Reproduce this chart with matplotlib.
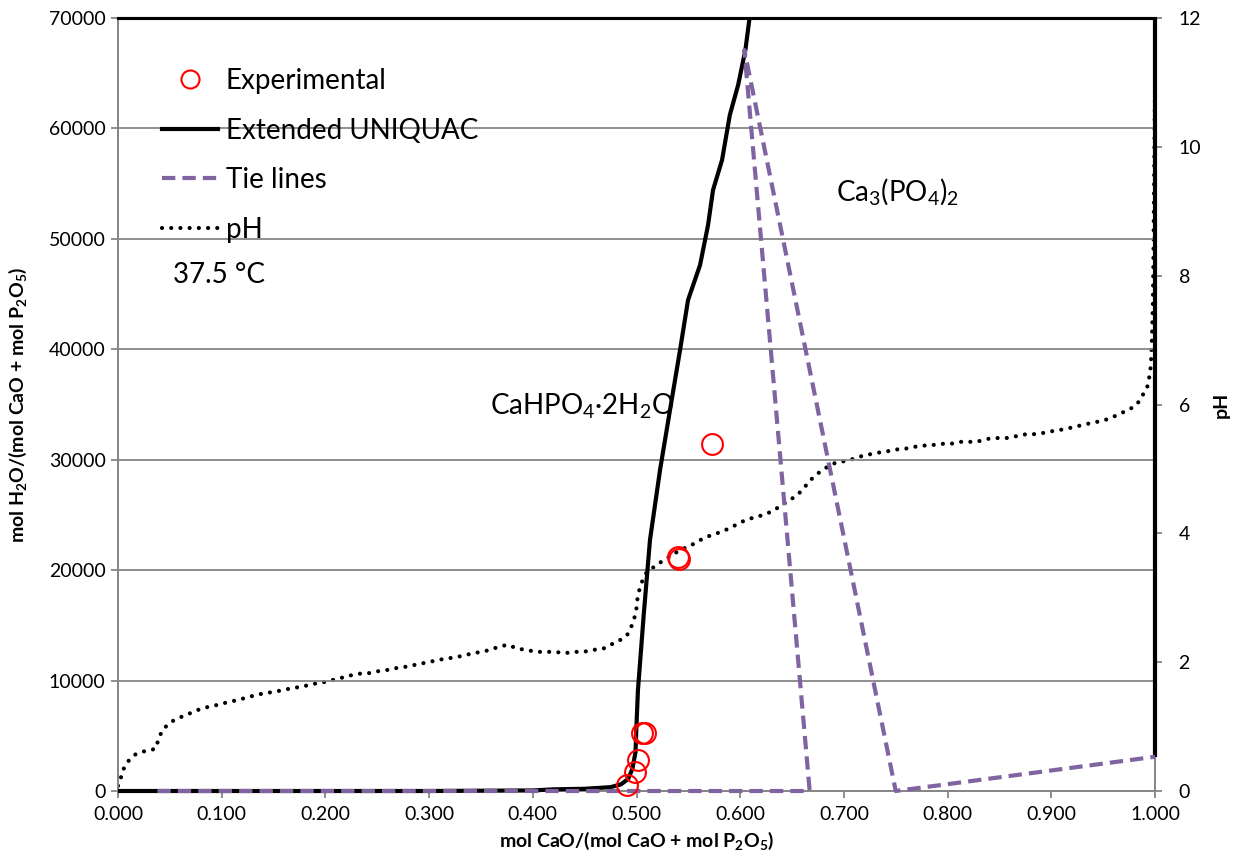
import matplotlib
matplotlib.use("Agg")
import matplotlib.pyplot as plt
from matplotlib.lines import Line2D
from matplotlib.ticker import FormatStrFormatter, MultipleLocator

plt.rcParams["font.family"] = ["Lato", "DejaVu Sans"]
plt.rcParams["mathtext.fontset"] = "custom"
plt.rcParams["mathtext.rm"] = "Lato"
plt.rcParams["mathtext.it"] = "Lato:italic"
plt.rcParams["mathtext.bf"] = "Lato:bold"

# Extended UNIQUAC solubility curve (CaHPO4.2H2O branch)
uniquac_x = [0.0, 0.10, 0.20, 0.30, 0.40, 0.42, 0.45, 0.475, 0.485, 0.492, 0.496,
             0.499, 0.500, 0.5014, 0.507, 0.513, 0.5227, 0.5323, 0.542, 0.5497,
             0.5613, 0.569, 0.5738, 0.5825, 0.590, 0.598, 0.605, 0.609]
uniquac_y = [0, 0, 0, 0, 50, 150, 200, 350, 600, 1100, 2000,
             3500, 6000, 9150, 16000, 22730, 29070, 34500, 39930, 44460,
             47630, 51250, 54420, 57140, 61220, 63930, 67100, 70000]
# branch along x = 1 (Ca(OH)2 side)
uniquac2_x = [1.0, 1.0]
uniquac2_y = [3100, 70000]

# tie lines
tie_x = [0.038, 0.667, 0.604, 0.750, 1.0]
tie_y = [0, 0, 67100, 0, 3100]

# experimental points
exp_x = [0.491, 0.499, 0.501, 0.505, 0.508, 0.540, 0.541, 0.573]
exp_y = [540, 1700, 2800, 5250, 5250, 21200, 21000, 31400]

# pH (secondary axis)
ph_x = [0.0, 0.002, 0.004, 0.009, 0.017, 0.026, 0.035, 0.037, 0.039, 0.044,
        0.052, 0.061, 0.070, 0.079, 0.088, 0.097, 0.106, 0.115, 0.124, 0.133,
        0.142, 0.151, 0.160, 0.169, 0.178, 0.187, 0.196, 0.206, 0.214, 0.223,
        0.232, 0.242, 0.251, 0.260, 0.269, 0.278, 0.287, 0.296, 0.305, 0.314,
        0.323, 0.333, 0.340, 0.350, 0.359, 0.367, 0.376, 0.385, 0.394, 0.403,
        0.413, 0.421, 0.431, 0.440, 0.449, 0.458, 0.468, 0.475, 0.483, 0.491,
        0.495, 0.498, 0.500, 0.501, 0.503, 0.506, 0.510, 0.518, 0.525, 0.533,
        0.541, 0.549, 0.557, 0.565, 0.574, 0.581, 0.590, 0.598, 0.607, 0.615,
        0.623, 0.632, 0.639, 0.646, 0.654, 0.661, 0.666, 0.674, 0.681, 0.689,
        0.697, 0.706, 0.715, 0.723, 0.732, 0.741, 0.749, 0.758, 0.767, 0.775,
        0.785, 0.795, 0.803, 0.813, 0.822, 0.830, 0.840, 0.849, 0.857, 0.867,
        0.876, 0.884, 0.893, 0.902, 0.910, 0.919, 0.927, 0.935, 0.944, 0.952,
        0.960, 0.968, 0.976, 0.983, 0.987, 0.992, 0.994, 0.996, 0.997, 0.998,
        0.9985, 0.999, 0.9995, 1.0]
ph_y = [0.08, 0.14, 0.30, 0.45, 0.57, 0.62, 0.65, 0.67, 0.82, 0.97,
        1.08, 1.15, 1.21, 1.27, 1.31, 1.34, 1.38, 1.41, 1.45, 1.49,
        1.52, 1.54, 1.57, 1.60, 1.62, 1.66, 1.68, 1.72, 1.75, 1.79,
        1.82, 1.83, 1.86, 1.88, 1.91, 1.93, 1.96, 1.99, 2.02, 2.05,
        2.07, 2.10, 2.13, 2.16, 2.19, 2.24, 2.27, 2.21, 2.19, 2.16,
        2.16, 2.16, 2.14, 2.16, 2.16, 2.19, 2.21, 2.27, 2.33, 2.42,
        2.55, 2.69, 2.84, 3.00, 3.14, 3.28, 3.40, 3.49, 3.57, 3.65,
        3.73, 3.79, 3.85, 3.93, 3.98, 4.02, 4.08, 4.15, 4.22, 4.25,
        4.29, 4.35, 4.43, 4.50, 4.58, 4.69, 4.80, 4.92, 5.00, 5.08,
        5.11, 5.14, 5.19, 5.22, 5.25, 5.27, 5.30, 5.31, 5.34, 5.36,
        5.37, 5.39, 5.39, 5.42, 5.42, 5.43, 5.47, 5.48, 5.48, 5.51,
        5.54, 5.54, 5.56, 5.59, 5.61, 5.64, 5.67, 5.70, 5.73, 5.76,
        5.81, 5.87, 5.93, 6.01, 6.12, 6.24, 6.37, 6.60, 7.00, 7.60,
        8.30, 9.20, 10.20, 11.0]

GRID = "#868686"
PURPLE = "#8064A2"

fig = plt.figure(figsize=(12.33, 8.59), dpi=100)
ax = fig.add_axes([118 / 1233, 1 - 791 / 859, 1037 / 1233, 773 / 859])
ax2 = ax.twinx()

ax.plot(uniquac_x, uniquac_y, color="black", lw=3.0, zorder=3,
        solid_capstyle="butt", clip_on=False)
ax.plot(uniquac2_x, uniquac2_y, color="black", lw=3.0, zorder=3,
        solid_capstyle="butt", clip_on=False)
ax.plot(tie_x, tie_y, color=PURPLE, lw=3.0, dashes=(3.2, 1.7), zorder=4, clip_on=False)
ax.plot(exp_x, exp_y, ls="none", marker="o", ms=15, mfc="none", mec="red", mew=1.5,
        zorder=5, clip_on=False)

ax2.plot(ph_x, ph_y, color="black", lw=3.0, dashes=(0.01, 2.2),
         dash_capstyle="round", zorder=3)

ax.set_xlim(0, 1)
ax.set_ylim(0, 70000)
ax2.set_ylim(0, 12)
ax.xaxis.set_major_locator(MultipleLocator(0.1))
ax.xaxis.set_major_formatter(FormatStrFormatter("%.3f"))
ax.yaxis.set_major_locator(MultipleLocator(10000))
ax2.yaxis.set_major_locator(MultipleLocator(2))

ax.grid(axis="y", color=GRID, lw=1.3)
ax.set_axisbelow(True)
for a in (ax, ax2):
    for side in ("left", "bottom", "right"):
        a.spines[side].set_color(GRID)
        a.spines[side].set_linewidth(1.3)
    a.spines["top"].set_color("black")
    a.spines["top"].set_linewidth(2.2)
    a.tick_params(colors=GRID, labelcolor="black", labelsize=14, length=5, width=1.3)
ax.tick_params(axis="y", pad=4)
ax.tick_params(axis="x", pad=6)
ax2.tick_params(axis="y", pad=12)
ax.patch.set_visible(False)
ax2.set_zorder(0)
ax.set_zorder(1)

ax.set_xlabel(r"mol CaO/(mol CaO + mol P$_\mathbf{2}$O$_\mathbf{5}$)",
              fontsize=14, fontweight="bold", labelpad=5)
ax.set_ylabel(r"mol H$_\mathbf{2}$O/(mol CaO + mol P$_\mathbf{2}$O$_\mathbf{5}$)",
              fontsize=14, fontweight="bold", labelpad=14)
ax2.set_ylabel("pH", fontsize=14, fontweight="bold", labelpad=8)

ax.text(0.359, 34100, r"CaHPO$_\mathregular{4}$·2H$_\mathregular{2}$O", fontsize=20)
ax.text(0.692, 53500, r"Ca$_\mathregular{3}$(PO$_\mathregular{4}$)$_\mathregular{2}$", fontsize=20)
ax.text(0.053, 46000, "37.5 °C", fontsize=20)

handles = [
    Line2D([], [], ls="none", marker="o", ms=13, mfc="none", mec="red", mew=1.5),
    Line2D([], [], color="black", lw=3.0),
    Line2D([], [], color=PURPLE, lw=3.0, dashes=(3.2, 1.7)),
    Line2D([], [], color="black", lw=3.0, dashes=(0.01, 2.2), dash_capstyle="round"),
]
labels = ["Experimental", "Extended UNIQUAC", "Tie lines", "pH"]
fig.legend(handles, labels, loc="upper left", bbox_to_anchor=(162 / 1233, 1 - 68 / 859),
           frameon=False, fontsize=20, handlelength=2.0, handletextpad=0.3,
           labelspacing=0.85, borderpad=0, borderaxespad=0)

fig.savefig("out.png", dpi=100)
